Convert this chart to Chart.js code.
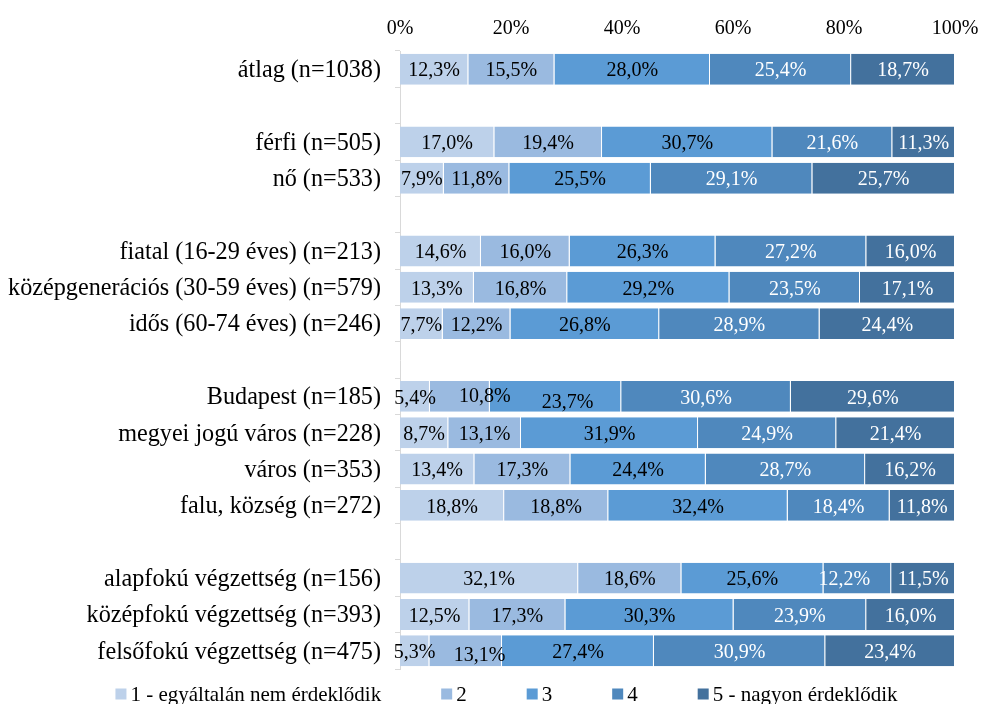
<!DOCTYPE html>
<html><head><meta charset="utf-8">
<script src="https://cdn.jsdelivr.net/npm/chart.js@4.4.1/dist/chart.umd.min.js"></script>
<style>html,body{margin:0;padding:0;background:#fff;}canvas{display:block;}</style>
</head><body>
<canvas id="c" width="981" height="704"></canvas>
<script>
const categories = ['átlag (n=1038)', '', 'férfi (n=505)', 'nő (n=533)', '',
  'fiatal (16-29 éves) (n=213)', 'középgenerációs (30-59 éves) (n=579)', 'idős (60-74 éves) (n=246)', '',
  'Budapest (n=185)', 'megyei jogú város (n=228)', 'város (n=353)', 'falu, község (n=272)', '',
  'alapfokú végzettség (n=156)', 'középfokú végzettség (n=393)', 'felsőfokú végzettség (n=475)'];
const seriesNames = ['1 - egyáltalán nem érdeklődik', '2', '3', '4', '5 - nagyon érdeklődik'];
const level1 = [12.3, null, 17.0, 7.9, null, 14.6, 13.3, 7.7, null, 5.4, 8.7, 13.4, 18.8, null, 32.1, 12.5, 5.3];
const level2 = [15.5, null, 19.4, 11.8, null, 16.0, 16.8, 12.2, null, 10.8, 13.1, 17.3, 18.8, null, 18.6, 17.3, 13.1];
const level3 = [28.0, null, 30.7, 25.5, null, 26.3, 29.2, 26.8, null, 23.7, 31.9, 24.4, 32.4, null, 25.6, 30.3, 27.4];
const level4 = [25.4, null, 21.6, 29.1, null, 27.2, 23.5, 28.9, null, 30.6, 24.9, 28.7, 18.4, null, 12.2, 23.9, 30.9];
const level5 = [18.7, null, 11.3, 25.7, null, 16.0, 17.1, 24.4, null, 29.6, 21.4, 16.2, 11.8, null, 11.5, 16.0, 23.4];
const xTicks = [0, 20, 40, 60, 80, 100];

const series = [level1, level2, level3, level4, level5];
const colors = ['#bdd1ea', '#9abae0', '#5b9bd5', '#4f88bd', '#43719d'];
const labelColors = ['#000000', '#000000', '#000000', '#ffffff', '#ffffff'];
const FONT = "'Liberation Serif', 'Times New Roman', serif";

// manual label nudges (px), as placed in the reference
const labelNudge = { '9-1': [25, -2], '9-2': [12, 4], '16-1': [14, 3], '14-3': [-13, 0] };

const totals = categories.map((_, j) => {
  let t = 0; series.forEach(s => { if (s[j] != null) t += s[j]; }); return t;
});

const datasets = series.map((arr, i) => ({
  label: seriesNames[i],
  data: arr.map((v, j) => v == null ? null : v / totals[j] * 100),
  rawValues: arr,
  backgroundColor: colors[i],
  borderColor: 'rgba(255,255,255,0.55)',
  borderWidth: { top: 0, bottom: 0, left: 0, right: 1 },
  borderSkipped: false,
  barPercentage: 0.85,
  categoryPercentage: 1
}));

const fmt = v => v.toFixed(1).replace('.', ',') + '%';

const dataLabels = {
  id: 'dataLabels',
  afterDatasetsDraw(chart) {
    const ctx = chart.ctx;
    ctx.save();
    ctx.font = '20px ' + FONT;
    ctx.textAlign = 'center';
    ctx.textBaseline = 'middle';
    chart.data.datasets.forEach((ds, i) => {
      const meta = chart.getDatasetMeta(i);
      meta.data.forEach((bar, j) => {
        const v = ds.rawValues[j];
        if (v == null) return;
        const n = labelNudge[j + '-' + i] || [0, 0];
        ctx.fillStyle = labelColors[i];
        ctx.fillText(fmt(v), (bar.x + bar.base) / 2 + n[0], bar.y + 2 + n[1]);
      });
    });
    ctx.restore();
  }
};

const legendPlugin = {
  id: 'customLegend',
  afterDraw(chart) {
    const ctx = chart.ctx;
    ctx.save();
    ctx.font = '21px ' + FONT;
    ctx.textBaseline = 'middle';
    ctx.textAlign = 'left';
    const box = 11, gapText = 4, gapItem = 60;
    const widths = seriesNames.map(t => box + gapText + ctx.measureText(t).width);
    const total = widths.reduce((a, b) => a + b, 0) + gapItem * (widths.length - 1);
    let x = 506.5 - total / 2;
    const yc = 694;
    seriesNames.forEach((t, i) => {
      ctx.fillStyle = colors[i];
      ctx.fillRect(x, yc - 5.5, box, 11);
      ctx.fillStyle = '#000';
      ctx.fillText(t, x + box + gapText, yc + 1);
      x += widths[i] + gapItem;
    });
    ctx.restore();
  }
};

new Chart(document.getElementById('c'), {
  type: 'bar',
  data: { labels: categories, datasets },
  options: {
    indexAxis: 'y',
    responsive: false,
    animation: false,
    events: [],
    devicePixelRatio: 1,
    layout: { padding: { left: 0, top: 0, right: 26, bottom: 35 } },
    plugins: { legend: { display: false }, tooltip: { enabled: false } },
    scales: {
      x: {
        type: 'linear', position: 'top', stacked: true, min: 0, max: 100,
        afterBuildTicks: s => { s.ticks = xTicks.map(v => ({ value: v })); },
        afterFit: s => { s.height = 51; s.paddingLeft = 0; s.paddingRight = 0; },
        grid: { display: false, drawTicks: false },
        border: { display: false },
        ticks: { color: '#000', font: { family: FONT, size: 20 }, padding: 10, maxRotation: 0,
          callback: v => v + '%' }
      },
      y: {
        type: 'category', stacked: true, offset: true,
        afterFit: s => { s.width = 400; s.paddingTop = 0; s.paddingBottom = 0; },
        grid: { display: true, drawOnChartArea: false, drawTicks: true, tickLength: 5, offset: true, color: '#d9d9d9' },
        border: { display: true, color: '#d9d9d9', width: 1 },
        ticks: { color: '#000', font: { family: FONT, size: 24.2 }, padding: 14, autoSkip: false, labelOffset: 1.5 }
      }
    }
  },
  plugins: [dataLabels, legendPlugin]
});
</script>
</body></html>
